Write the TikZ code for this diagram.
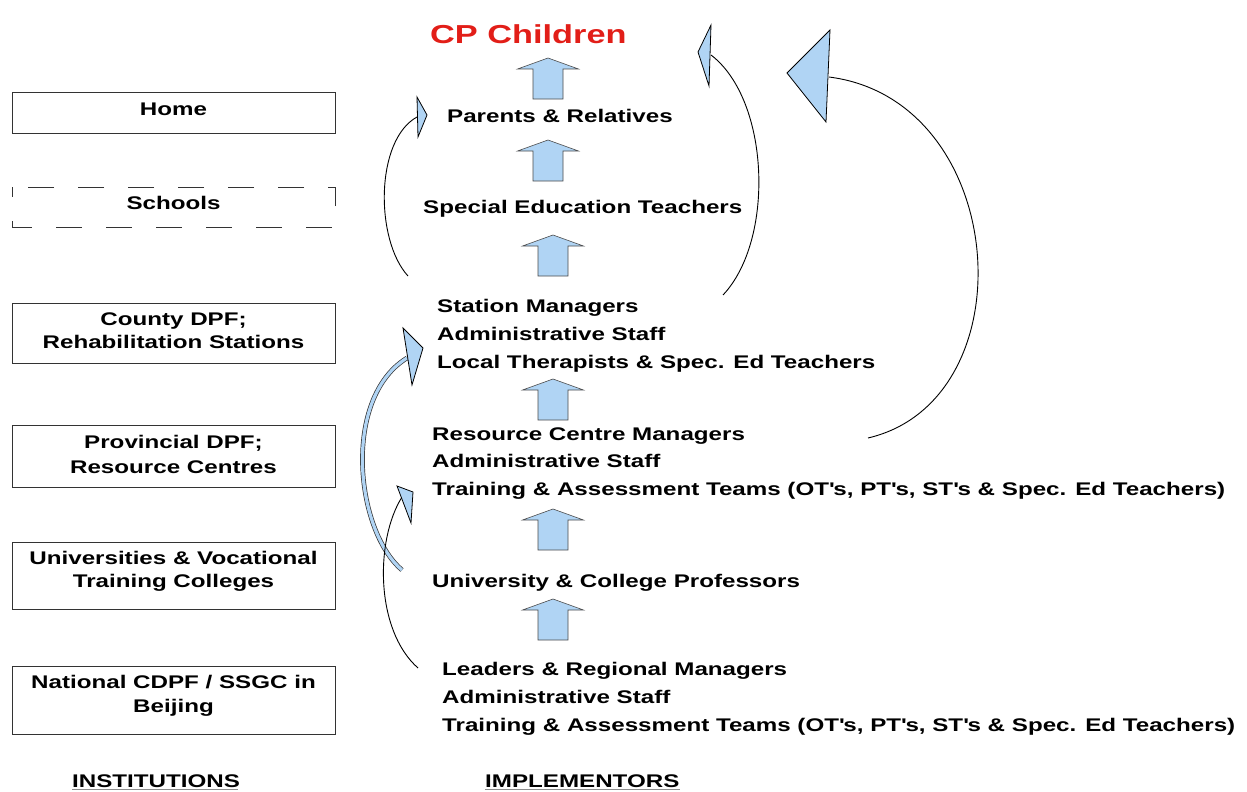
\documentclass[tikz,border=0pt]{standalone}
\usepackage{fontspec}
\setmainfont{Liberation Sans}[FakeStretch=1.32]
\definecolor{arrowblue}{RGB}{176,212,244}
\definecolor{titlered}{RGB}{226,30,24}
\newcommand{\apos}{\textquotesingle}
\begin{document}
\begin{tikzpicture}[x=1pt,y=-1pt,
  txt/.style={inner sep=0pt, font=\fontsize{18.3}{22}\selectfont\bfseries, text=black},
  instbox/.style={draw=black!80, line width=1pt, minimum width=323pt, minimum height=#1, inner sep=0pt},
  schoolbox/.style={draw=black!80, line width=1pt, dash pattern=on 26pt off 24pt, dash phase=16pt},
  blockarrow/.style={fill=arrowblue, draw=black!70, line width=0.6pt, line join=miter},
  curve/.style={draw=black, line width=0.9pt},
  bandcurve/.style={draw=black!80, double=arrowblue, double distance=3.2pt, line width=0.7pt},
  curvehead/.style={fill=arrowblue, draw=black, line width=0.8pt, line join=miter},
  uparrow/.pic={\path[blockarrow] (0,0) -- (30.5,11) -- (15,11) -- (15,41) -- (-15,41) -- (-15,11) -- (-30.5,11) -- cycle;}
]
\useasboundingbox (0,0) rectangle (1247,792);
\fill[white] (0,0) rectangle (1247,792);

% ---------- institutions column ----------
\node[instbox=41pt] (home) at (173.5,112.5) {};
\node[txt, anchor=base] (homet) at (173.5,115) {Home};

\draw[schoolbox] (12,187) rectangle (335,227);
\node[txt, anchor=base] (schoolst) at (173.5,209) {Schools};

\node[instbox=60pt] (county) at (173.5,333) {};
\node[txt, anchor=base] (countya) at (173.5,325) {County DPF;};
\node[txt, anchor=base] (countyb) at (173.5,348) {Rehabilitation Stations};

\node[instbox=62pt] (prov) at (173.5,456) {};
\node[txt, anchor=base] (prova) at (173.5,448) {Provincial DPF;};
\node[txt, anchor=base] (provb) at (173.5,473) {Resource Centres};

\node[instbox=67pt] (univbox) at (173.5,575.5) {};
\node[txt, anchor=base] (univa) at (173.5,564) {Universities \& Vocational};
\node[txt, anchor=base] (univb) at (173.5,587) {Training Colleges};

\node[instbox=68pt] (natl) at (173.5,700) {};
\node[txt, anchor=base] (natla) at (173.5,688) {National CDPF / SSGC in};
\node[txt, anchor=base] (natlb) at (173.5,712) {Beijing};

\node[txt, anchor=base west] (instlabel) at (72,787) {INSTITUTIONS};
\draw[black!45, line width=0.8pt] (instlabel.south west) ++(0,2.5) -- ++(166,0);

% ---------- implementors column ----------
\node[inner sep=0pt, anchor=base west, font=\fontsize{26}{30}\selectfont\bfseries, text=titlered] (cp) at (430,44) {CP Children};
\node[txt, anchor=base west] (parents) at (447,122) {Parents \& Relatives};
\node[txt, anchor=base west] (spec) at (423,213) {Special Education Teachers};

\node[txt, anchor=base west] (station) at (437,312) {Station Managers};
\node[txt, anchor=base west] (admina) at (437,340) {Administrative Staff};
\node[txt, anchor=base west] (local) at (437,368) {Local Therapists \& Spec. Ed Teachers};

\node[txt, anchor=base west] (resource) at (432,440) {Resource Centre Managers};
\node[txt, anchor=base west] (adminb) at (432,467) {Administrative Staff};
\node[txt, anchor=base west] (traina) at (432,495) {Training \& Assessment Teams (OT\apos s, PT\apos s, ST\apos s \& Spec. Ed Teachers)};

\node[txt, anchor=base west] (prof) at (432,587) {University \& College Professors};

\node[txt, anchor=base west] (leaders) at (442,675) {Leaders \& Regional Managers};
\node[txt, anchor=base west] (adminc) at (442,703) {Administrative Staff};
\node[txt, anchor=base west] (trainb) at (442,731) {Training \& Assessment Teams (OT\apos s, PT\apos s, ST\apos s \& Spec. Ed Teachers)};

\node[txt, anchor=base west] (impllabel) at (485,787) {IMPLEMENTORS};
\draw[black!45, line width=0.8pt] (impllabel.south west) ++(0,2.5) -- ++(195,0);

% ---------- block arrows between levels ----------
\pic at (548,58) {uparrow};
\pic at (548,140) {uparrow};
\pic at (553,235) {uparrow};
\pic at (553,379) {uparrow};
\pic at (553,509) {uparrow};
\pic at (553,599) {uparrow};

% ---------- curved arrows ----------
% stations -> parents (left)
\coordinate (c1s) at (408,276);
\coordinate (c1e) at (417,117);
\draw[curve] (c1s) .. controls (375,240) and (375,140) .. (c1e);
\path[curvehead] (417,97) -- (427,115) -- (418,137) -- cycle;

% stations -> children (inner right)
\coordinate (c2s) at (723,295);
\coordinate (c2e) at (711,55);
\draw[curve] (c2s) .. controls (775,240) and (770,100) .. (c2e);
\path[curvehead] (711,25) -- (698,52) -- (709,86) -- cycle;

% resource centres -> children (outer right)
\coordinate (c3s) at (868,438);
\coordinate (c3e) at (829,77);
\draw[curve] (c3s) .. controls (1030,400) and (1010,100) .. (c3e);
\path[curvehead] (830,30) -- (787,73) -- (826,122) -- cycle;

% professors -> stations (hollow band)
\coordinate (c4s) at (402,570);
\coordinate (c4e) at (407,358);
\draw[bandcurve] (c4s) .. controls (355,530) and (342,398) .. (c4e);
\path[curvehead] (403,328) -- (423,348) -- (412,385) -- cycle;

% national -> resource centres (thin)
\coordinate (c5s) at (418,668);
\coordinate (c5e) at (402,497);
\draw[curve] (c5s) .. controls (375,630) and (375,540) .. (c5e);
\path[curvehead] (397,486) -- (413,492) -- (411,523) -- cycle;

\end{tikzpicture}
\end{document}
